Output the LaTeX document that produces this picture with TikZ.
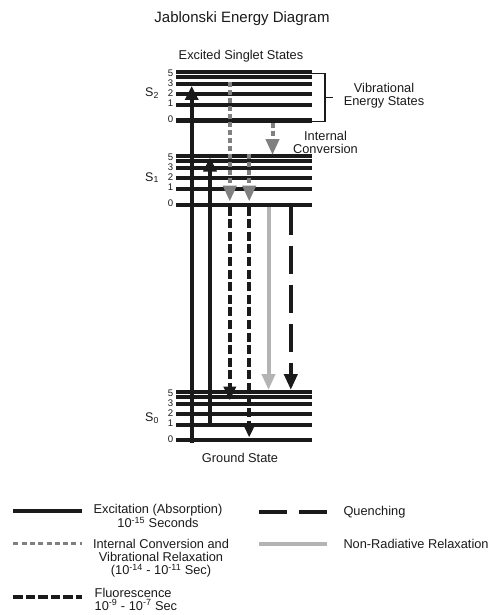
\documentclass[tikz,border=0pt]{standalone}
\usepackage{fontspec}
\setmainfont{Liberation Sans}
\usetikzlibrary{arrows.meta}
\definecolor{ink}{HTML}{1A1A1A}
\definecolor{icgray}{HTML}{808080}
\definecolor{nrgray}{HTML}{B4B4B4}
\tikzset{
  lbl/.style={inner sep=0pt, text=ink, font=\fontsize{12.8}{13}\selectfont, align=center},
  ttl/.style={inner sep=0pt, text=ink, font=\fontsize{15}{15}\selectfont},
  num/.style={inner sep=0pt, text=ink, font=\fontsize{9.6}{10}\selectfont, anchor=east},
  slbl/.style={inner sep=0pt, text=ink, font=\fontsize{12.5}{13}\selectfont, anchor=base west},
  lev/.style={line width=4pt, ink},
  exc/.style={line width=4pt, ink, -{Triangle[length=14pt,width=13pt]}},
  icv/.style={line width=4pt, icgray, dash pattern=on 5pt off 3pt, -{Triangle[length=16pt,width=13pt]}},
  flu/.style={line width=4pt, ink, dash pattern=on 9pt off 3.6pt, -{Triangle[length=14pt,width=12pt]}},
  nrr/.style={line width=4pt, nrgray, -{Triangle[length=16pt,width=13pt]}},
  qch/.style={line width=4pt, ink, dash pattern=on 28pt off 11pt, -{Triangle[length=16pt,width=13pt]}},
  % legend samples
  lgexc/.style={line width=4pt, ink},
  lgic/.style={line width=3.6pt, icgray, dash pattern=on 5pt off 3.3pt},
  lgflu/.style={line width=4pt, ink, dash pattern=on 9.6pt off 2.9pt},
  lgqch/.style={line width=4pt, ink, dash pattern=on 27.5pt off 12.5pt},
  lgnr/.style={line width=4pt, nrgray},
}
\begin{document}
\begin{tikzpicture}[x=1pt,y=-1pt]
\useasboundingbox (0,0) rectangle (492,615);

% titles
\node[ttl, anchor=base] (title) at (242,23) {Jablonski Energy Diagram};
\node[lbl, anchor=base] (exc-title) at (241,60) {Excited Singlet States};
\node[lbl, anchor=base] (gnd-title) at (240,462.3) {Ground State};

% vibrational levels of each singlet state: name, y of level 0
\foreach \st/\base in {s2/120.5, s1/204.5, s0/440}{
  \foreach \v/\off in {0/0, 1/15.3, 2/26.5, 3/36.5, 4/43.3, 5/48.3}{
    \coordinate (\st-\v-l) at (176,\base-\off);
    \coordinate (\st-\v-r) at (311.5,\base-\off);
    \draw[lev] (\st-\v-l) -- (\st-\v-r);
  }
  \foreach \v/\off in {0/1, 1/17, 2/27, 3/37, 5/47}{
    \node[num] (\st-n\v) at (173.3,\base-\off) {\v};
  }
}

% state labels
\node[slbl] (S2) at (145,97) {S\textsubscript{2}};
\node[slbl] (S1) at (145,181) {S\textsubscript{1}};
\node[slbl] (S0) at (145,421.5) {S\textsubscript{0}};

% ends of the transitions
\coordinate (eA0) at (191.7,442.5);
\coordinate (eA1) at (191.7,86);
\coordinate (eB0) at (210,426.2);
\coordinate (eB1) at (210,157.5);
\coordinate (eC0) at (229.8,82);
\coordinate (eC1) at (229.8,201.5);
\coordinate (eD0) at (249.2,154);
\coordinate (eD1) at (249.2,201.5);
\coordinate (eC2) at (229.8,206.5);
\coordinate (eC3) at (229.8,400.5);
\coordinate (eD2) at (249.2,206.5);
\coordinate (eD3) at (249.2,437.5);
\coordinate (eF0) at (272.5,122.5);
\coordinate (eF1) at (272.5,155);
\coordinate (eE0) at (268.5,206.5);
\coordinate (eE1) at (268.5,390);
\coordinate (eG0) at (290.8,206.5);
\coordinate (eG1) at (290.8,390);

% excitation
\draw[exc] (eA0) -- (eA1);
\draw[exc] (eB0) -- (eB1);
% internal conversion and vibrational relaxation
\draw[icv] (eC0) -- (eC1);
\draw[icv] (eD0) -- (eD1);
\draw[icv] (eF0) -- (eF1);
% fluorescence
\draw[flu] (eC2) -- (eC3);
\draw[flu] (eD2) -- (eD3);
% non-radiative relaxation
\draw[nrr] (eE0) -- (eE1);
% quenching
\draw[qch] (eG0) -- (eG1);

% bracket over the S2 levels
\coordinate (brT) at (312,73.5);
\coordinate (brB) at (312,121.5);
\coordinate (brM) at (333,97.5);
\draw[line width=1.3pt, ink] (brT) -- (325,73.5) -- (325,121.5) -- (brB);
\draw[line width=1.3pt, ink] (325,97.5) -- (brM);
% multi-line labels: the base anchor sits on the last line
\node[lbl, anchor=base] (vib) at (384,106) {Vibrational\\Energy States};
\node[lbl, anchor=base] (ic) at (325.5,153) {Internal\\Conversion};

% legend
\coordinate (L1a) at (13.3,510.7);  \coordinate (L1b) at (81.7,510.7);
\coordinate (L2a) at (13.3,543.3);  \coordinate (L2b) at (81.7,543.3);
\coordinate (L3a) at (13.3,597.3);  \coordinate (L3b) at (82,597.3);
\coordinate (L4a) at (259.3,512.3); \coordinate (L4b) at (326.7,512.3);
\coordinate (L5a) at (259.3,544.3); \coordinate (L5b) at (326.7,544.3);
\draw[lgexc] (L1a) -- (L1b);
\draw[lgic] (L2a) -- (L2b);
\draw[lgflu] (L3a) -- (L3b);
\draw[lgqch] (L4a) -- (L4b);
\draw[lgnr] (L5a) -- (L5b);

\node[lbl, anchor=base] (t1) at (158,527.8) {Excitation (Absorption)\\10\textsuperscript{-15} Seconds};
\node[lbl, anchor=base] (t2) at (161,574.5) {Internal Conversion and\\Vibrational Relaxation\\(10\textsuperscript{-14} - 10\textsuperscript{-11} Sec)};
\node[lbl, anchor=base west, align=left] (t3) at (94.5,610.3) {Fluorescence\\10\textsuperscript{-9} - 10\textsuperscript{-7} Sec};
\node[lbl, anchor=base west] (t4) at (343.3,515) {Quenching};
\node[lbl, anchor=base west] (t5) at (343.3,548.3) {Non-Radiative Relaxation};
\end{tikzpicture}
\end{document}
